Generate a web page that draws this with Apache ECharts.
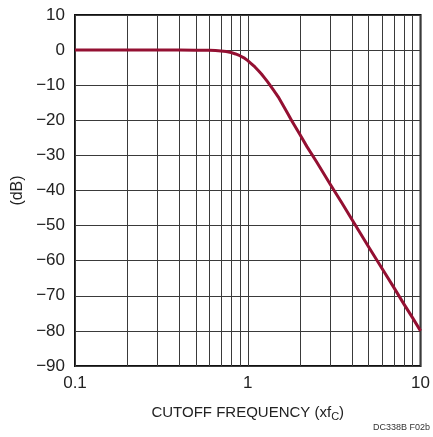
<!DOCTYPE html>
<html>
<head>
<meta charset="utf-8">
<script src="https://cdn.jsdelivr.net/npm/echarts@6/dist/echarts.min.js"></script>
<style>
  html, body { margin: 0; padding: 0; background: #fff; }
  #chart { width: 433px; height: 437px; }
</style>
</head>
<body>
<div id="chart"></div>
<script>
// values
const freq = [0.1, 0.2, 0.3, 0.4, 0.5, 0.6, 0.65, 0.7, 0.75, 0.8, 0.85, 0.9, 0.95, 1, 1.05, 1.1, 1.15, 1.2, 1.25, 1.3, 1.4, 1.5, 1.6, 1.7, 1.8, 2, 2.2, 2.5, 3, 3.5, 4, 5, 6, 7, 8, 9, 10];
const gain = [0, 0, 0, 0, -0.02, -0.07, -0.13, -0.25, -0.42, -0.7, -1.1, -1.6, -2.2, -3, -3.9, -4.8, -5.8, -6.8, -7.9, -9, -11.2, -13.3, -15.7, -18, -20.2, -24, -27.5, -31.8, -38.2, -43.5, -48.2, -56, -62.3, -67.6, -72.3, -76.3, -80];
const minorFreq = [0.2, 0.3, 0.4, 0.5, 0.6, 0.7, 0.8, 0.9, 2, 3, 4, 5, 6, 7, 8, 9];
const yTicks = { min: -90, max: 10, step: 10 };

const font = '"Liberation Sans Narrow", "Liberation Sans", Arial, sans-serif';
const gridColor = '#3a3a3a';
const lineColor = '#941032';

const chart = echarts.init(document.getElementById('chart'), null, { renderer: 'canvas' });

chart.setOption({
  animation: false,
  grid: {
    left: 75, right: 7, top: 15, bottom: 71,
    show: true, borderColor: '#111', borderWidth: 2, backgroundColor: 'transparent'
  },
  xAxis: {
    type: 'log',
    logBase: 10,
    min: 0.1,
    max: 10,
    name: 'CUTOFF FREQUENCY (xf{s|C})',
    nameLocation: 'middle',
    nameGap: 38,
    nameTextStyle: {
      fontFamily: font, fontSize: 15, color: '#222',
      rich: { s: { fontFamily: font, fontSize: 11, color: '#222', verticalAlign: 'bottom', padding: [7, 0, 0, 0] } }
    },
    axisLine: { show: false },
    axisTick: { show: false },
    axisLabel: {
      fontFamily: font, fontSize: 17, color: '#222', margin: 9,
      formatter: (v) => String(v)
    },
    splitLine: { show: true, lineStyle: { color: gridColor, width: 1 } }
  },
  yAxis: {
    type: 'value',
    min: yTicks.min,
    max: yTicks.max,
    interval: yTicks.step,
    name: '(dB)',
    nameLocation: 'middle',
    nameGap: 46,
    nameRotate: 90,
    nameTextStyle: { fontFamily: font, fontSize: 16, color: '#222' },
    axisLine: { show: false },
    axisTick: { show: false },
    axisLabel: {
      fontFamily: font, fontSize: 17, color: '#222', margin: 10,
      formatter: (v) => String(v).replace('-', '\u2212')
    },
    splitLine: { show: true, lineStyle: { color: gridColor, width: 1 } }
  },
  graphic: [{
    type: 'text',
    right: 3,
    bottom: 5,
    style: { text: 'DC338B F02b', fontFamily: font, fontSize: 9, fill: '#333' }
  }],
  series: [
    {
      type: 'line',
      data: [],
      silent: true,
      markLine: {
        silent: true,
        symbol: 'none',
        label: { show: false },
        lineStyle: { color: gridColor, width: 1, type: 'solid' },
        data: minorFreq.map((f) => ({ xAxis: f }))
      }
    },
    {
      type: 'line',
      data: freq.map((f, i) => [f, gain[i]]),
      showSymbol: false,
      smooth: false,
      lineStyle: { color: lineColor, width: 3, join: 'round' },
      itemStyle: { color: lineColor },
      z: 5
    }
  ]
});
</script>
</body>
</html>
